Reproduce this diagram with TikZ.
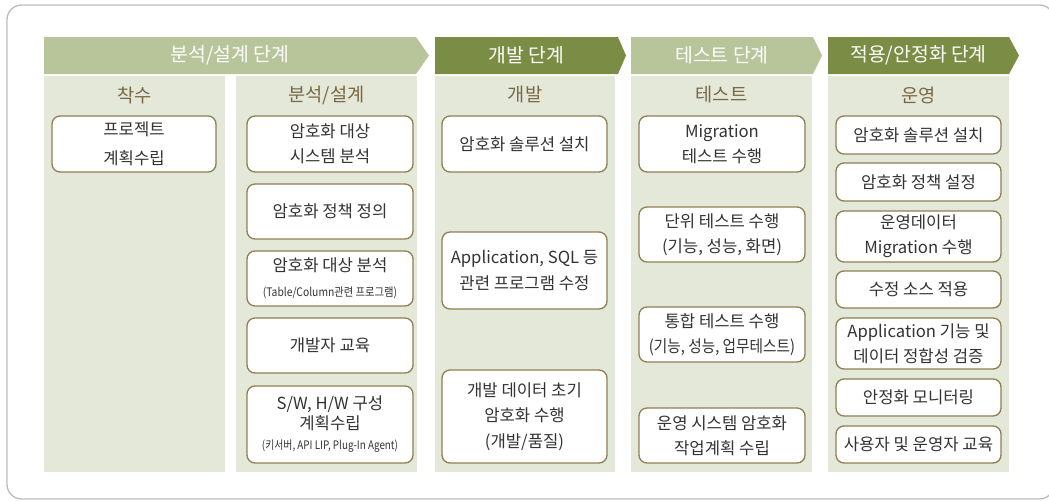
\documentclass[tikz,border=0pt]{standalone}
\usepackage{fontspec}
\usepackage{graphicx}
\setmainfont{Noto Sans CJK KR}
\usetikzlibrary{positioning}

\definecolor{stagelight}{HTML}{B8C49A}
\definecolor{stagedark}{HTML}{7B8C45}
\definecolor{colbg}{HTML}{E3E8D9}
\definecolor{boxline}{HTML}{907F52}
\definecolor{titletext}{HTML}{7A6844}
\definecolor{boxtext}{HTML}{333333}
\definecolor{framegray}{HTML}{BDBDBD}

% narrow text for the long sub-lines
\newcommand{\smalltxt}[2][0.9]{\scalebox{#1}[1]{\fontsize{8.8}{12}\selectfont #2}}
\newcommand{\narrow}[2][0.88]{\scalebox{#1}[1]{#2}}

\begin{document}
\begin{tikzpicture}[x=0.75pt,y=-0.75pt,
  stagetext/.style={text=white,font=\fontsize{14.5}{16}\selectfont},
  coltitle/.style={text=titletext,font=\fontsize{14}{16}\selectfont},
  taskbox/.style={draw=boxline,fill=white,line width=1pt,rounded corners=6pt,
    align=center,inner sep=0pt,text=boxtext,font=\fontsize{12.5}{19}\selectfont}]
  \useasboundingbox (0,0) rectangle (1049,500);
  \clip (0,0) rectangle (1049,500);
  \draw[framegray,line width=1pt,rounded corners=11pt] (7,5) rectangle (1054,499);
  % name, x left, x body end, x tip, colour, text
  \newcommand{\phasearrow}[6]{%
    \fill[#5] (#2,37) -- (#3,37) -- (#4,55.5) -- (#3,74) -- (#2,74) -- cycle;
    \node[stagetext] (#1) at ({(#2+#3)/2},55.5) {#6};}
  % name, x left, x right, title
  \newcommand{\phasecol}[4]{%
    \fill[colbg] (#2,76) rectangle (#3,472);
    \node[coltitle] (#1) at ({(#2+#3)/2},95) {#4};}
  % name, x1, y1, x2, y2, text
  \newcommand{\tbox}[6]{%
    \node[taskbox,minimum width={(#4-#2)*0.75pt},minimum height={(#5-#3)*0.75pt}]
      (#1) at ({(#2+#4)/2},{(#3+#5)/2}) {#6};}

  \phasearrow{hdrA}{44}{416}{429}{stagelight}{분석/설계 단계}
  \phasearrow{hdrD}{435}{618}{626}{stagedark}{개발 단계}
  \phasearrow{hdrT}{631}{813}{822}{stagelight}{테스트 단계}
  \phasearrow{hdrO}{828}{1009}{1019}{stagedark}{적용/안정화 단계}

  \phasecol{colS}{44}{225}{착수}
  \phasecol{colA}{236}{417}{분석/설계}
  \phasecol{colD}{435}{615}{개발}
  \phasecol{colT}{631}{812}{테스트}
  \phasecol{colO}{828}{1009}{운영}

  \tbox{plan}{52}{116}{216}{172}{프로젝트\\[3pt]계획수립}

  \tbox{anaA}{247}{116}{413}{172}{암호화 대상\\시스템 분석}
  \tbox{anaB}{247}{184}{413}{239}{암호화 정책 정의}
  \tbox{anaC}{247}{251}{413}{306}{암호화 대상 분석\\\smalltxt[0.88]{(Table/Column관련 프로그램)}}
  \tbox{anaD}{247}{318}{413}{373}{개발자 교육}
  \tbox{anaE}{247}{386}{413}{463}{S/W, H/W 구성\\[-4pt]계획수립\\[-4pt]\smalltxt[0.84]{(키서버, API LIP, Plug-In Agent)}}

  \tbox{devA}{442}{116}{607}{172}{암호화 솔루션 설치}
  \tbox{devB}{442}{232}{607}{309}{Application, SQL 등\\관련 프로그램 수정}
  \tbox{devC}{442}{370}{607}{463}{개발 데이터 초기\\암호화 수행\\(개발/품질)}

  \tbox{tstA}{639}{116}{805}{172}{Migration\\테스트 수행}
  \tbox{tstB}{639}{207}{805}{262}{단위 테스트 수행\\(기능, 성능, 화면)}
  \tbox{tstC}{639}{307}{805}{362}{통합 테스트 수행\\\narrow{(기능, 성능, 업무테스트)}}
  \tbox{tstD}{639}{408}{805}{463}{운영 시스템 암호화\\작업계획 수립}

  \tbox{opsA}{836}{116}{1001}{154}{암호화 솔루션 설치}
  \tbox{opsB}{836}{163}{1001}{201}{암호화 정책 설정}
  \tbox{opsC}{836}{211}{1001}{262}{운영데이터\\Migration 수행}
  \tbox{opsD}{836}{271}{1001}{308}{수정 소스 적용}
  \tbox{opsE}{836}{318}{1001}{369}{Application 기능 및\\데이터 정합성 검증}
  \tbox{opsF}{836}{379}{1001}{416}{안정화 모니터링}
  \tbox{opsG}{836}{426}{1001}{463}{사용자 및 운영자 교육}
\end{tikzpicture}
\end{document}
